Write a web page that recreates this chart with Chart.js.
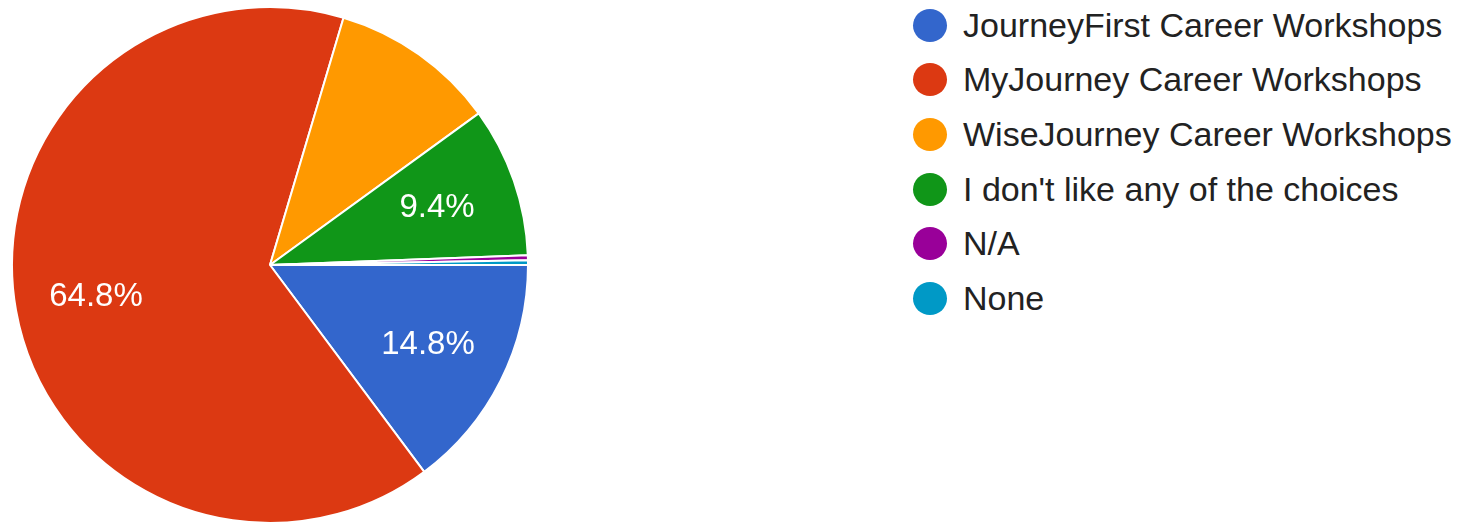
<!DOCTYPE html>
<html>
<head>
<meta charset="utf-8">
<script src="https://cdn.jsdelivr.net/npm/chart.js@4"></script>
<style>
  html, body { margin: 0; padding: 0; background: #fff; }
  body { width: 1470px; height: 525px; position: relative; overflow: hidden; font-family: Arial, "Liberation Sans", Helvetica, sans-serif; }
  #pieBox { position: absolute; left: 11px; top: 6px; width: 518px; height: 518px; }
  #legend { position: absolute; left: 913px; top: -2px; margin: 0; padding: 0; list-style: none; }
  #legend li { height: 54.66px; display: flex; align-items: center; font-size: 34px; color: #222; white-space: nowrap; }
  #legend li span { display: inline-block; width: 34px; height: 33px; border-radius: 50%; margin-right: 16px; }
</style>
</head>
<body>
<div id="pieBox"><canvas id="pie"></canvas></div>
<ul id="legend"></ul>
<script>
const categories = [
  "JourneyFirst Career Workshops",
  "MyJourney Career Workshops",
  "WiseJourney Career Workshops",
  "I don't like any of the choices",
  "N/A",
  "None",
];
const percents = [14.8, 64.8, 10.4, 9.4, 0.3, 0.3];
// slices that carry a percentage label in the picture
const labelled = [true, true, false, true, false, false];
const colors = ["#3366cc", "#dc3912", "#ff9900", "#109618", "#990099", "#0099c6"];

// draws the percentage text inside each labelled slice
const sliceLabels = {
  id: "sliceLabels",
  afterDatasetsDraw(chart) {
    const ctx = chart.ctx;
    const meta = chart.getDatasetMeta(0);
    ctx.save();
    ctx.fillStyle = "#fff";
    ctx.font = '33px Arial, "Liberation Sans", sans-serif';
    ctx.textAlign = "center";
    ctx.textBaseline = "middle";
    meta.data.forEach((arc, i) => {
      if (!labelled[i]) return;
      const mid = (arc.startAngle + arc.endAngle) / 2;
      const r = arc.outerRadius * 0.685;
      ctx.fillText(percents[i].toFixed(1) + "%", arc.x + Math.cos(mid) * r, arc.y + Math.sin(mid) * r + 1);
    });
    ctx.restore();
  },
};

const chart = new Chart("pie", {
  type: "pie",
  data: {
    labels: categories,
    datasets: [
      {
        data: percents,
        backgroundColor: colors,
        borderColor: "#fff",
        borderWidth: 2,
      },
    ],
  },
  options: {
    responsive: true,
    maintainAspectRatio: false,
    animation: false,
    rotation: 90,
    layout: { padding: 0 },
    plugins: {
      legend: { display: false },
      tooltip: { enabled: false },
    },
  },
  plugins: [sliceLabels],
});

const legend = document.getElementById("legend");
categories.forEach((name, i) => {
  const li = document.createElement("li");
  const dot = document.createElement("span");
  dot.style.background = colors[i];
  li.appendChild(dot);
  li.appendChild(document.createTextNode(name));
  legend.appendChild(li);
});
</script>
</body>
</html>
